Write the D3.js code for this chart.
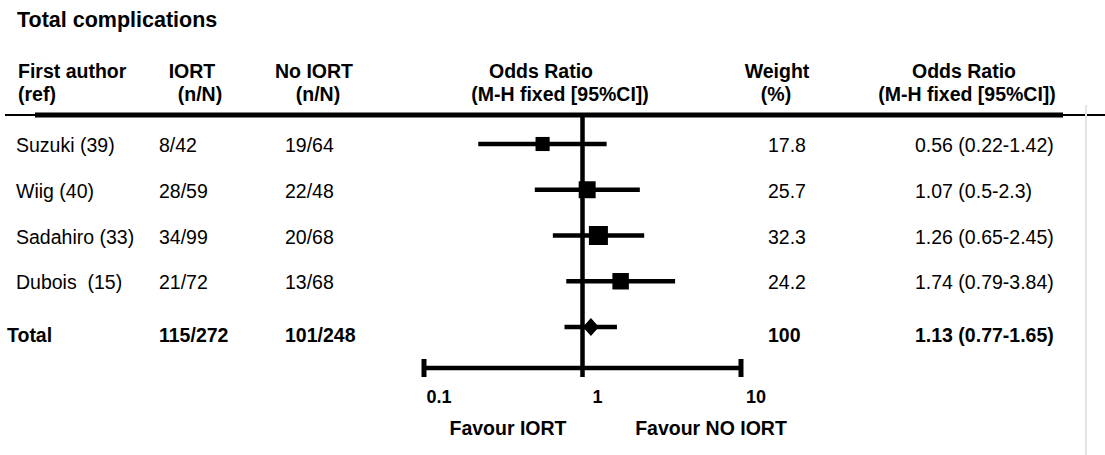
<!DOCTYPE html>
<meta charset="utf-8">
<head>
    <title>Total complications</title>
</head>
<style>
    body { margin: 0; background: #fff; }
    text { font-family: "Liberation Sans", Arial, sans-serif; fill: #000; white-space: pre; }
</style>
<div id="graph_div"></div>
<script src="https://d3js.org/d3.v7.min.js"></script>
<script>
    // study rows
    var authors = ["Suzuki (39)", "Wiig (40)", "Sadahiro (33)", "Dubois  (15)"];
    var iort = ["8/42", "28/59", "34/99", "21/72"];
    var noIort = ["19/64", "22/48", "20/68", "13/68"];
    var weights = [17.8, 25.7, 32.3, 24.2];
    var oddsRatio = [0.56, 1.07, 1.26, 1.74];
    var ciLow = [0.22, 0.5, 0.65, 0.79];
    var ciHigh = [1.42, 2.3, 2.45, 3.84];

    // pooled row
    var totalLabel = "Total";
    var totalIort = "115/272";
    var totalNoIort = "101/248";
    var totalWeight = 100;
    var totalOr = 1.13;
    var totalLow = 0.77;
    var totalHigh = 1.65;

    var axisTicks = [0.1, 1, 10];
    var favourLabels = ["Favour IORT", "Favour NO IORT"];

    var width = 1105, height = 455;

    var svg = d3.select("#graph_div")
      .append("svg")
        .attr("width", width)
        .attr("height", height);

    var x = d3.scaleLog()
      .domain([0.1, 10])
      .range([424, 741]);

    var rowNames = authors.concat([totalLabel]);
    var y = d3.scalePoint()
      .domain(rowNames)
      .range([144, 327]);

    var boxSize = d3.scaleSqrt()
      .domain([0, d3.max(weights)])
      .range([0, 19]);

    // title
    svg.append("text")
        .attr("x", 17)
        .attr("y", 27)
        .style("font-size", "21.5px")
        .style("font-weight", "bold")
        .text("Total complications");

    // header
    var header = [
      {t: "First author", x: 18, y: 78, a: "start"},
      {t: "(ref)", x: 18, y: 101, a: "start"},
      {t: "IORT", x: 192, y: 78, a: "middle"},
      {t: "(n/N)", x: 200, y: 101, a: "middle"},
      {t: "No IORT", x: 314, y: 78, a: "middle"},
      {t: "(n/N)", x: 318, y: 101, a: "middle"},
      {t: "Odds Ratio", x: 541, y: 78, a: "middle"},
      {t: "(M-H fixed [95%CI])", x: 560, y: 101, a: "middle"},
      {t: "Weight", x: 777, y: 78, a: "middle"},
      {t: "(%)", x: 776, y: 101, a: "middle"},
      {t: "Odds Ratio", x: 964, y: 78, a: "middle"},
      {t: "(M-H fixed [95%CI])", x: 967, y: 101, a: "middle"}
    ];
    svg.selectAll(".head")
      .data(header)
      .enter()
      .append("text")
        .attr("class", "head")
        .attr("x", function(d) { return d.x; })
        .attr("y", function(d) { return d.y; })
        .attr("text-anchor", function(d) { return d.a; })
        .style("font-size", "19.5px")
        .style("font-weight", "bold")
        .text(function(d) { return d.t; });

    // rule under the header
    svg.append("line")
        .attr("x1", 5).attr("x2", 1105)
        .attr("y1", 115).attr("y2", 115)
        .attr("stroke", "#000")
        .attr("stroke-width", 2);
    svg.append("line")
        .attr("x1", 35).attr("x2", 1063)
        .attr("y1", 115).attr("y2", 115)
        .attr("stroke", "#000")
        .attr("stroke-width", 5);

    // faint line at the right edge
    svg.append("line")
        .attr("x1", 1086).attr("x2", 1086)
        .attr("y1", 105).attr("y2", 455)
        .attr("stroke", "#e4e4e4")
        .attr("stroke-width", 2);

    // text columns
    var rows = authors.map(function(a, i) {
      return {name: a, iort: iort[i], no: noIort[i], w: weights[i],
              or: oddsRatio[i], lo: ciLow[i], hi: ciHigh[i], total: false};
    });
    rows.push({name: totalLabel, iort: totalIort, no: totalNoIort, w: totalWeight,
               or: totalOr, lo: totalLow, hi: totalHigh, total: true});

    var rowText = svg.selectAll(".row")
      .data(rows)
      .enter()
      .append("g")
        .attr("class", "row")
        .attr("transform", function(d) { return "translate(0," + (y(d.name) + (d.total ? 15 : 8)) + ")"; })
        .style("font-size", "19.5px")
        .style("font-weight", function(d) { return d.total ? "bold" : "normal"; });

    rowText.append("text").attr("x", function(d) { return d.total ? 7 : 16; }).text(function(d) { return d.name; });
    rowText.append("text").attr("x", 159).text(function(d) { return d.iort; });
    rowText.append("text").attr("x", 285).text(function(d) { return d.no; });
    rowText.append("text").attr("x", 768).text(function(d) { return d.w; });
    rowText.append("text").attr("x", 915).text(function(d) { return d.or + " (" + d.lo + "-" + d.hi + ")"; });

    // line of no effect
    svg.append("line")
        .attr("x1", x(1)).attr("x2", x(1))
        .attr("y1", 117).attr("y2", 377)
        .attr("stroke", "#000")
        .attr("stroke-width", 4.5);

    // confidence intervals
    svg.selectAll(".ci")
      .data(rows)
      .enter()
      .append("line")
        .attr("class", "ci")
        .attr("x1", function(d) { return x(d.lo); })
        .attr("x2", function(d) { return x(d.hi); })
        .attr("y1", function(d) { return y(d.name); })
        .attr("y2", function(d) { return y(d.name); })
        .attr("stroke", "#000")
        .attr("stroke-width", 4.5);

    // study boxes
    var studies = rows.filter(function(d) { return !d.total; });
    svg.selectAll(".box")
      .data(studies)
      .enter()
      .append("rect")
        .attr("class", "box")
        .attr("x", function(d) { return x(d.or) - boxSize(d.w) / 2; })
        .attr("y", function(d) { return y(d.name) - boxSize(d.w) / 2; })
        .attr("width", function(d) { return boxSize(d.w); })
        .attr("height", function(d) { return boxSize(d.w); })
        .attr("fill", "#000");

    // pooled diamond
    var cx = x(totalOr), cy = y(totalLabel);
    svg.append("path")
        .attr("d", "M" + (cx - 8) + "," + cy + "L" + cx + "," + (cy - 9) +
                   "L" + (cx + 8) + "," + cy + "L" + cx + "," + (cy + 9) + "Z")
        .attr("fill", "#000");

    // axis
    var axisY = 368;
    svg.append("line")
        .attr("x1", x(0.1)).attr("x2", x(10))
        .attr("y1", axisY).attr("y2", axisY)
        .attr("stroke", "#000")
        .attr("stroke-width", 4.5);
    svg.selectAll(".cap")
      .data([0.1, 10])
      .enter()
      .append("line")
        .attr("class", "cap")
        .attr("x1", function(d) { return x(d); })
        .attr("x2", function(d) { return x(d); })
        .attr("y1", axisY - 9).attr("y2", axisY + 9)
        .attr("stroke", "#000")
        .attr("stroke-width", 5);

    svg.selectAll(".tick")
      .data(axisTicks)
      .enter()
      .append("text")
        .attr("class", "tick")
        .attr("x", function(d) { return x(d) + 15; })
        .attr("y", 403)
        .attr("text-anchor", "middle")
        .style("font-size", "18px")
        .style("font-weight", "bold")
        .text(function(d) { return d; });

    svg.selectAll(".favour")
      .data(favourLabels)
      .enter()
      .append("text")
        .attr("class", "favour")
        .attr("x", function(d, i) { return i === 0 ? 508 : 711; })
        .attr("y", 435)
        .attr("text-anchor", "middle")
        .style("font-size", "19.5px")
        .style("font-weight", "bold")
        .text(function(d) { return d; });
</script>
